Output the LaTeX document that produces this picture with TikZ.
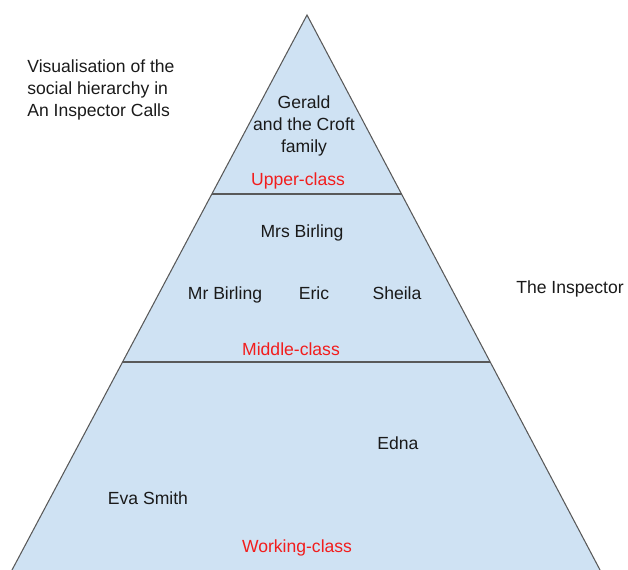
\documentclass[tikz,border=0pt]{standalone}
\usepackage{fontspec}
\setmainfont{Liberation Sans}
\usepackage[HTML]{xcolor}
\usetikzlibrary{calc}
\definecolor{pyrfill}{HTML}{CFE2F3}
\definecolor{pyrline}{HTML}{595959}
\definecolor{classred}{HTML}{F21D1D}

\begin{document}
\begin{tikzpicture}[x=0.02cm, y=-0.02cm, font=\fontsize{10}{12.5}\selectfont,
  person/.style={text=black!90, inner sep=1pt},
  classlbl/.style={text=classred, inner sep=1pt}]
\useasboundingbox (0,0) rectangle (628,570);
\clip (0,0) rectangle (628,570);

% Pyramid corners (base runs off the bottom)
\coordinate (apex) at (307,15);
\coordinate (bl) at (6.7,580);
\coordinate (br) at (605.3,580);

% Pyramid body and the two class dividers
\fill[pyrfill,draw=pyrline,line width=0.6pt] (apex)--(br)--(bl)--cycle;
\draw[pyrline,line width=0.6pt] ($(apex)!0.3168!(bl)$) -- ($(apex)!0.3168!(br)$);
\draw[pyrline,line width=0.6pt] ($(apex)!0.6142!(bl)$) -- ($(apex)!0.6142!(br)$);

% Title and outsider
\node[align=left, anchor=north west, text=black!90, inner sep=0pt] (title) at (27,59)
  {Visualisation of the\\social hierarchy in\\An Inspector Calls};
\node[person] (inspector) at (570,289) {The Inspector};

% Upper-class
\node[person, align=center] (gerald) at (304,126) {Gerald\\and the Croft\\family};
\node[classlbl] (upper) at (298,181) {Upper-class};

% Middle-class
\node[person] (mrsb) at (302,233) {Mrs Birling};
\node[person, anchor=base] (mrb) at (225,300) {Mr Birling};
\node[person, anchor=base] (eric) at (314,300) {Eric};
\node[person, anchor=base] (sheila) at (397,300) {Sheila};
\node[classlbl] (middle) at (291,349) {Middle-class};

% Working-class
\node[person] (edna) at (398,443) {Edna};
\node[person] (eva) at (148,498) {Eva Smith};
\node[classlbl] (working) at (297,548) {Working-class};
\end{tikzpicture}
\end{document}
